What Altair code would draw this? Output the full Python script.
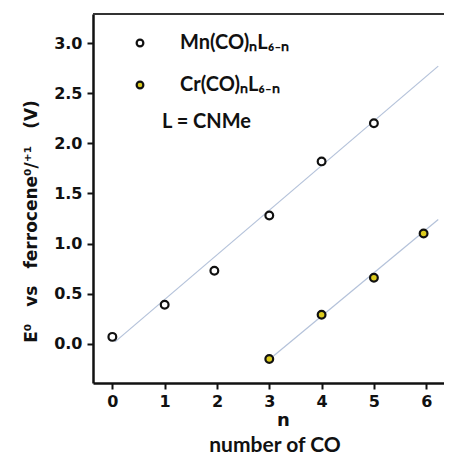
import altair as alt
import pandas as pd

# Data
mn_n = [0, 1, 1.95, 3, 4, 5]
mn_e = [0.07, 0.39, 0.73, 1.28, 1.82, 2.20]
cr_n = [3, 4, 5, 5.95]
cr_e = [-0.15, 0.29, 0.66, 1.10]

mn_fit_n = [0.05, 6.23]
mn_fit_e = [0.02, 2.77]
cr_fit_n = [3.08, 6.23]
cr_fit_e = [-0.12, 1.24]

x_ticks = [0, 1, 2, 3, 4, 5, 6]
y_ticks = [0.0, 0.5, 1.0, 1.5, 2.0, 2.5, 3.0]

W, H = 351, 369
XDOM = [-0.37, 6.34]
YDOM = [-0.39, 3.29]

pts = pd.DataFrame(
    {"n": mn_n + cr_n, "E": mn_e + cr_e,
     "s": ["Mn"] * len(mn_n) + ["Cr"] * len(cr_n)}
)
fits = pd.DataFrame(
    {"n": mn_fit_n + cr_fit_n, "E": mn_fit_e + cr_fit_e,
     "s": ["Mn"] * 2 + ["Cr"] * 2}
)

xs = alt.Scale(domain=XDOM, nice=False, zero=False)
ys = alt.Scale(domain=YDOM, nice=False, zero=False)

xax = alt.Axis(values=x_ticks, format="d", title="n", titleX=190, titleY=37,
               titleBaseline="middle", titleFont="DejaVu Sans", titleFontSize=18,
               titleFontWeight="bold")
yax = alt.Axis(values=y_ticks, format=".1f",
               title="E⁰\u2002\u2002vs\u2002\u2002ferrocene⁰/⁺¹\u2002\u2002(V)",
               titleX=-62, titleY=207, titleBaseline="middle",
               titleFont="DejaVu Sans", titleFontSize=17, titleFontWeight="bold")

lines = alt.Chart(fits).mark_line(color="#b4c2da", strokeWidth=1.2).encode(
    x=alt.X("n:Q", scale=xs, axis=xax),
    y=alt.Y("E:Q", scale=ys, axis=yax),
    detail="s:N",
)

fill_scale = alt.Scale(domain=["Mn", "Cr"], range=["#ffffff", "#dccb1e"])

points = alt.Chart(pts).mark_point(shape="circle", filled=False, size=60,
                                   strokeWidth=2.2, opacity=1).encode(
    x=alt.X("n:Q", scale=xs),
    y=alt.Y("E:Q", scale=ys),
    fill=alt.Fill("s:N", scale=fill_scale, legend=None),
    stroke=alt.value("#111111"),
    fillOpacity=alt.value(1),
)

top = alt.Chart(pd.DataFrame({"a": [0]})).mark_rule(color="#333333", strokeWidth=2).encode(
    x=alt.value(0), x2=alt.value(W + 10), y=alt.value(0)
)

leg_pts = pd.DataFrame({"s": ["Mn", "Cr"], "px": [47, 47], "py": [29, 71]})
leg_circ = alt.Chart(leg_pts).mark_point(shape="circle", filled=False, size=45,
                                         strokeWidth=2.2, opacity=1).encode(
    x=alt.X("px:Q", scale=None), y=alt.Y("py:Q", scale=None),
    fill=alt.Fill("s:N", scale=fill_scale, legend=None),
    stroke=alt.value("#111111"),
    fillOpacity=alt.value(1),
)

leg_txt = pd.DataFrame({
    "t": ["Mn(CO)ₙL₆₋ₙ", "Cr(CO)ₙL₆₋ₙ", "L = CNMe"],
    "px": [87, 87, 69], "py": [29, 71, 108]})
leg_text = alt.Chart(leg_txt).mark_text(align="left", baseline="middle",
                                        font="Lato", fontSize=20, fontWeight="bold",
                                        color="#111111").encode(
    x=alt.X("px:Q", scale=None), y=alt.Y("py:Q", scale=None), text="t:N"
)

bottom_title = alt.Chart(pd.DataFrame({"t": ["number of CO"]})).mark_text(
    align="center", baseline="middle", font="Lato", fontSize=21, fontWeight="bold",
    color="#111111").encode(x=alt.value(182), y=alt.value(432), text="t:N")

chart = alt.layer(lines, points, top, leg_circ, leg_text, bottom_title).properties(
    width=W, height=H,
    autosize=alt.AutoSizeParams(type="none"),
    padding={"left": 85, "top": 6, "right": 0, "bottom": 84},
).configure_view(stroke=None).configure_axis(
    grid=False, domainColor="#111111", domainWidth=2.5, tickColor="#111111",
    tickWidth=2, tickSize=6, labelFont="DejaVu Sans", labelFontWeight="bold",
    labelFontSize=16, labelColor="#111111", titleColor="#111111",
).configure_axisX(labelPadding=4).configure_axisY(labelPadding=5)

chart.save("out.html", embed_options={"renderer": "svg", "actions": False})
